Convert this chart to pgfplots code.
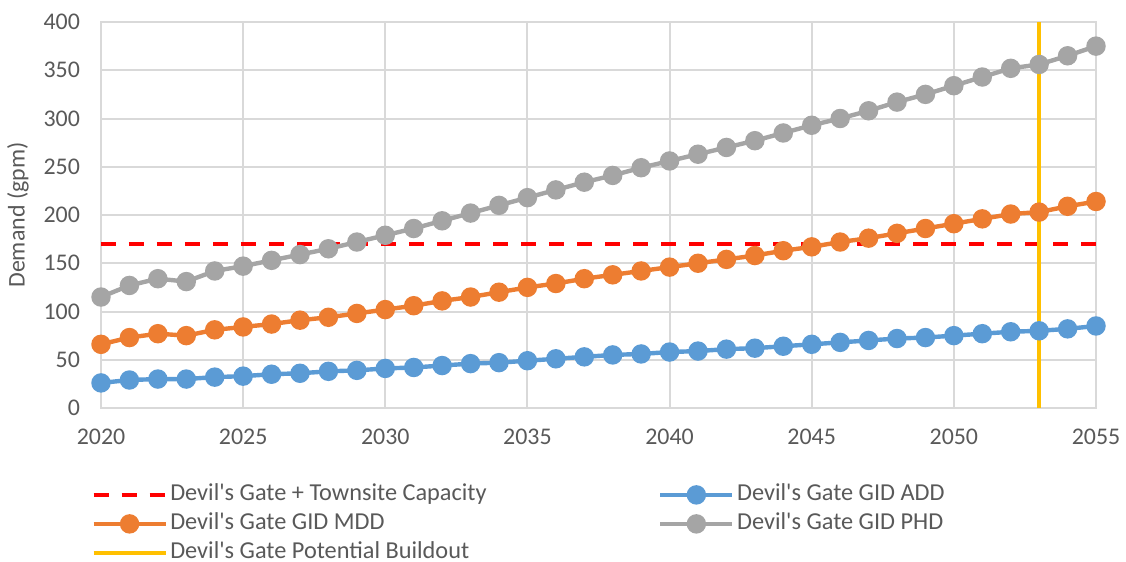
\documentclass[border=0pt]{standalone}
\usepackage{fontspec}
\setmainfont{Carlito}
\usepackage{pgfplots}
\pgfplotsset{compat=1.18}
\definecolor{cadd}{HTML}{5B9BD5}
\definecolor{cmdd}{HTML}{ED7D31}
\definecolor{cphd}{HTML}{A5A5A5}
\definecolor{cbo}{HTML}{FFC000}
\definecolor{ccap}{HTML}{FF0000}
\definecolor{gridc}{HTML}{D9D9D9}
\definecolor{txt}{HTML}{595959}
\newcommand{\ap}{\textquotesingle}
\begin{document}
\begin{tikzpicture}
\begin{axis}[
  scale only axis, width=497.5bp, height=193bp,
  xmin=2020, xmax=2055, ymin=0, ymax=400,
  xtick={2020,2025,...,2055}, ytick={0,50,...,400},
  /pgf/number format/1000 sep={},
  /pgf/number format/assume math mode=true,
  grid=major, grid style={color=gridc, line width=1bp},
  axis line style={color=gridc, line width=1bp},
  major tick length=0pt,
  xticklabel style={yshift=-7bp},
  yticklabel style={xshift=-7bp},
  ticklabel style={font=\fontsize{12}{14}\selectfont, text=txt},
  ylabel={Demand (gpm)},
  ylabel style={font=\fontsize{12}{14}\selectfont, text=txt, at={(axis description cs:-0.0834,0.5)}, anchor=center},
  clip=false,
  legend columns=2,
  legend cell align=left,
  legend style={draw=none, fill=none, at={(axis description cs:0,0)}, anchor=north west,
    xshift=-8bp, yshift=-34bp, font=\fontsize{12.2}{14}\selectfont, text=txt,
    row sep=0pt,
    nodes={text height=9bp, text depth=3bp, inner sep=1.25bp},
    /tikz/every even column/.append style={column sep=84.5bp}},
  legend image code/.code={\draw[mark repeat=2,mark phase=2] plot coordinates {(0bp,0bp)(18bp,0bp)(36bp,0bp)};},
]
\addplot[ccap, line width=2bp, dash pattern=on 7.5bp off 6.5bp] coordinates {(2020,170) (2055,170)};
\addlegendentry{Devil\ap s Gate + Townsite Capacity}
\addplot[cadd, line width=2.2bp, mark=*, mark size=3.75bp, mark options={fill=cadd, draw=none}] coordinates {
(2020,26)(2021,29)(2022,30)(2023,30)(2024,32)(2025,33)(2026,35)(2027,36)(2028,38)(2029,39)
(2030,41)(2031,42)(2032,44)(2033,46)(2034,47)(2035,49)(2036,51)(2037,53)(2038,55)(2039,56)
(2040,58)(2041,59)(2042,61)(2043,62)(2044,64)(2045,66)(2046,68)(2047,70)(2048,72)(2049,73)
(2050,75)(2051,77)(2052,79)(2053,80)(2054,82)(2055,85)};
\addlegendentry{Devil\ap s Gate GID ADD}
\addplot[cmdd, line width=2.2bp, mark=*, mark size=3.75bp, mark options={fill=cmdd, draw=none}] coordinates {
(2020,66)(2021,73)(2022,77)(2023,75)(2024,81)(2025,84)(2026,87)(2027,91)(2028,94)(2029,98)
(2030,102)(2031,106)(2032,111)(2033,115)(2034,120)(2035,125)(2036,129)(2037,134)(2038,138)(2039,142)
(2040,146)(2041,150)(2042,154)(2043,158)(2044,163)(2045,167)(2046,172)(2047,176)(2048,181)(2049,186)
(2050,191)(2051,196)(2052,201)(2053,203)(2054,209)(2055,214)};
\addlegendentry{Devil\ap s Gate GID MDD}
\addplot[cphd, line width=2.2bp, mark=*, mark size=3.75bp, mark options={fill=cphd, draw=none}] coordinates {
(2020,115)(2021,127)(2022,134)(2023,131)(2024,142)(2025,147)(2026,153)(2027,159)(2028,165)(2029,172)
(2030,179)(2031,186)(2032,194)(2033,202)(2034,210)(2035,218)(2036,226)(2037,234)(2038,241)(2039,249)
(2040,256)(2041,263)(2042,270)(2043,277)(2044,285)(2045,293)(2046,300)(2047,308)(2048,317)(2049,325)
(2050,334)(2051,343)(2052,352)(2053,356)(2054,365)(2055,375)};
\addlegendentry{Devil\ap s Gate GID PHD}
\addplot[cbo, line width=1.7bp] coordinates {(2053,0) (2053,400)};
\addlegendentry{Devil\ap s Gate Potential Buildout}
\end{axis}
\pgfresetboundingbox
\path (-50.5bp,-77bp) rectangle (512.5bp,204bp);
\end{tikzpicture}
\end{document}
